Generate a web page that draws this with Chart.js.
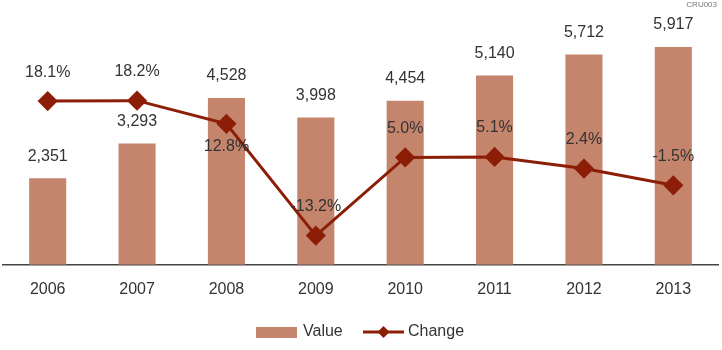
<!DOCTYPE html>
<html>
<head>
<meta charset="utf-8">
<script src="https://cdn.jsdelivr.net/npm/chart.js@4"></script>
<style>
  body { margin: 0; background: #fff; }
  #wrap { position: relative; width: 722px; height: 350px; }
</style>
</head>
<body>
<div id="wrap"><canvas id="cruChart"></canvas></div>
<script>
// ===================== Data =====================
const years = ['2006', '2007', '2008', '2009', '2010', '2011', '2012', '2013'];
const values = [2351, 3293, 4528, 3998, 4454, 5140, 5712, 5917];
const changes = [18.1, 18.2, 12.8, -13.2, 5.0, 5.1, 2.4, -1.5];
// change labels that sit below their point instead of above
const changeBelow = [false, false, true, false, false, false, false, false];

const BAR_COLOR = '#c4856c';
const LINE_COLOR = '#8c1e08';
const TEXT_COLOR = '#333';
const FONT = '"Liberation Sans", Arial, sans-serif';

// ===================== Value labels + legend + code tag =====================
const labelPlugin = {
  id: 'labelPlugin',
  afterDatasetsDraw(chart) {
    const c = chart.ctx;
    c.save();
    c.font = '16px ' + FONT;
    c.fillStyle = TEXT_COLOR;
    c.textAlign = 'center';
    c.textBaseline = 'middle';

    chart.getDatasetMeta(1).data.forEach((bar, i) => {
      c.fillText(values[i].toLocaleString('en-US'), bar.x, bar.y - 22);
    });
    chart.getDatasetMeta(0).data.forEach((pt, i) => {
      const dy = changeBelow[i] ? 23 : -29;
      c.fillText(changes[i].toFixed(1) + '%', pt.x, pt.y + dy);
    });

    // small code tag, top right
    c.font = '8px ' + FONT;
    c.fillStyle = '#777';
    c.textAlign = 'right';
    c.fillText('CRU003', 717, 5);

    // legend
    const ly = 332;
    c.font = '16px ' + FONT;
    c.textAlign = 'left';
    c.fillStyle = BAR_COLOR;
    c.fillRect(256, ly - 5, 41, 11);
    c.fillStyle = TEXT_COLOR;
    c.fillText('Value', 303, ly);

    c.strokeStyle = LINE_COLOR;
    c.lineWidth = 3;
    c.beginPath();
    c.moveTo(363, ly);
    c.lineTo(404, ly);
    c.stroke();
    c.fillStyle = LINE_COLOR;
    c.beginPath();
    c.moveTo(383.5, ly - 6);
    c.lineTo(389.5, ly);
    c.lineTo(383.5, ly + 6);
    c.lineTo(377.5, ly);
    c.closePath();
    c.fill();
    c.fillStyle = TEXT_COLOR;
    c.fillText('Change', 408, ly);
    c.restore();
  }
};

// ===================== Chart =====================
const ctx = document.getElementById('cruChart').getContext('2d');
new Chart(ctx, {
  data: {
    labels: years,
    datasets: [
      {
        type: 'line',
        label: 'Change',
        data: changes,
        yAxisID: 'yChange',
        borderColor: LINE_COLOR,
        backgroundColor: LINE_COLOR,
        borderWidth: 3,
        pointStyle: 'rectRot',
        pointRadius: 8,
        pointHoverRadius: 8,
        tension: 0,
        order: 0
      },
      {
        type: 'bar',
        label: 'Value',
        data: values,
        yAxisID: 'yValue',
        backgroundColor: BAR_COLOR,
        barPercentage: 0.83,
        categoryPercentage: 0.5,
        order: 1
      }
    ]
  },
  options: {
    responsive: true,
    maintainAspectRatio: false,
    animation: false,
    layout: { autoPadding: false, padding: { left: 3, right: 4, top: 7, bottom: 44 } },
    plugins: {
      legend: { display: false },
      tooltip: { enabled: false }
    },
    scales: {
      x: {
        grid: { display: false },
        border: { display: true, color: '#444', width: 1.5 },
        ticks: { color: TEXT_COLOR, font: { family: FONT, size: 16 }, padding: 7 }
      },
      yValue: { display: false, min: 0, max: 7000 },
      yChange: { display: false, min: -20, max: 40 }
    }
  },
  plugins: [labelPlugin]
});
</script>
</body>
</html>
